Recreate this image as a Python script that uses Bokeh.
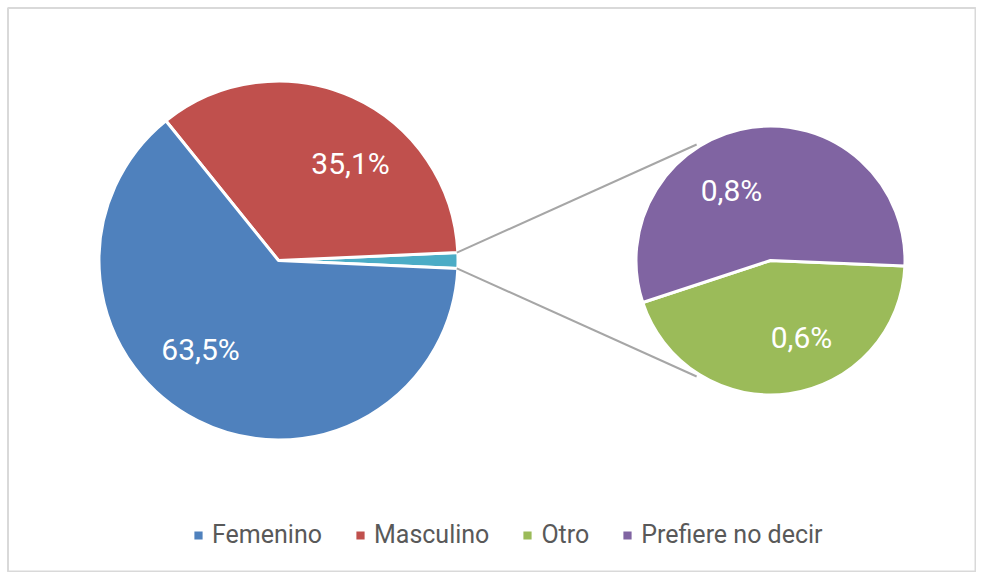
import math
from bokeh.plotting import figure
from bokeh.models import Range1d, Legend, LegendItem, ColumnDataSource
from bokeh.core.properties import value
from bokeh.embed import file_html
from bokeh.resources import INLINE

# ---- data ----
main_labels = ["Femenino", "Masculino"]
main_values = [63.5, 35.1]
sub_labels = ["Otro", "Prefiere no decir"]
sub_values = [0.62, 0.78]
main_colors = ["#4F81BD", "#C0504D"]
other_color = "#4BACC6"
sub_colors = ["#9BBB59", "#8064A2"]

W, H = 976, 572
p = figure(width=W, height=H, output_backend="svg", toolbar_location=None,
           x_range=Range1d(0, W), y_range=Range1d(0, H), min_border=0)
p.axis.visible = False
p.grid.visible = False
p.outline_line_color = None
p.background_fill_color = "white"
p.border_fill_color = "white"

FONT = "Roboto"

# layout (page px -> data)
def X(px): return px
def Y(py): return H - py

# chart border
p.quad(left=X(7.5), right=X(975), top=Y(7.5), bottom=Y(571), fill_color=None,
       line_color="#D9D9D9", line_width=2)

c1 = (X(278), Y(260)); r1 = 179.5
c2 = (X(770), Y(260)); r2 = 134.5

other_total = sum(sub_values)
total = sum(main_values) + other_total
deg = lambda v: v / total * 2 * math.pi

# main pie: other slice centered on 0 rad, then Masculino, Femenino anticlockwise
a0 = -deg(other_total) / 2
a1 = a0 + deg(other_total)
legend_renderers = {}
p.wedge(x=c1[0], y=c1[1], radius=r1, start_angle=a0, end_angle=a1,
        fill_color=other_color, line_color="white", line_width=3)
start = a1
for lab, v, col in zip(reversed(main_labels), reversed(main_values), reversed(main_colors)):
    end = start + deg(v)
    r = p.wedge(x=c1[0], y=c1[1], radius=r1, start_angle=start, end_angle=end,
                fill_color=col, line_color="white", line_width=3)
    legend_renderers[lab] = r
    start = end

# secondary pie
sub_start = math.radians(198.2)
start = sub_start
for lab, v, col in zip(sub_labels, sub_values, sub_colors):
    end = start + v / other_total * 2 * math.pi
    r = p.wedge(x=c2[0], y=c2[1], radius=r2, start_angle=start, end_angle=end,
                fill_color=col, line_color="white", line_width=3)
    legend_renderers[lab] = r
    start = end

# connector lines
ca = math.radians(122.5)
for s, e in [(a1, ca), (a0, -ca)]:
    x0 = c1[0] + (r1 - 1) * math.cos(s); y0 = c1[1] + (r1 - 1) * math.sin(s)
    x1 = c2[0] + (r2 + 3) * math.cos(e); y1 = c2[1] + (r2 + 3) * math.sin(e)
    p.line([x0, x1], [y0, y1], line_color="#A6A6A6", line_width=2)

# data labels
fmt = lambda v: f"{v:.1f}%".replace(".", ",")
lab_pos = {"Masculino": (X(350), Y(163)), "Femenino": (X(200), Y(349)),
           "Prefiere no decir": (X(731), Y(190)), "Otro": (X(801), Y(337))}
vals = dict(zip(main_labels + sub_labels, main_values + sub_values))
src = ColumnDataSource(dict(
    x=[lab_pos[k][0] for k in vals], y=[lab_pos[k][1] for k in vals],
    t=[fmt(vals[k]) for k in vals]))
p.text(x="x", y="y", text="t", source=src, text_color="white",
       text_font=value(FONT), text_font_size="30px",
       text_align="center", text_baseline="middle")

items = [LegendItem(label=k, renderers=[legend_renderers[k]])
         for k in main_labels + sub_labels]
leg = Legend(items=items, orientation="horizontal", location=(191, 23),
             label_text_font=FONT, label_text_font_size="25px",
             label_text_color="#595959", glyph_width=14, glyph_height=14,
             label_standoff=7, spacing=31, padding=0, margin=0,
             border_line_color=None, background_fill_alpha=0)
p.add_layout(leg, "center")

open("out.html", "w").write(file_html(p, INLINE))
